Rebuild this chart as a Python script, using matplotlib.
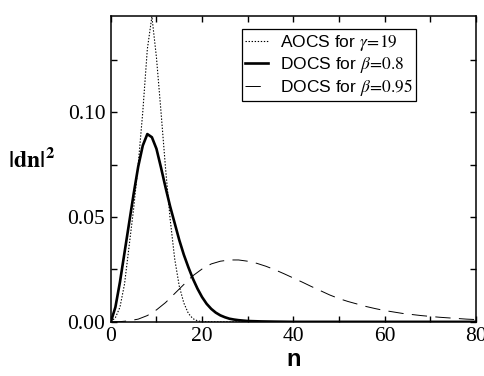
"""Photon-number distributions |d_n|^2 for AOCS and DOCS states."""
import matplotlib
matplotlib.use("Agg")
import matplotlib.pyplot as plt

plt.rcParams["mathtext.fontset"] = "stix"
plt.rcParams["lines.scale_dashes"] = False

# AOCS, gamma = 19 (dotted)
n_aocs = [0, 1, 2, 3, 4, 5, 6, 7, 8, 9, 10, 11, 12, 13, 14, 15, 16, 17, 18,
          19, 20, 22, 80]
p_aocs = [0.0, 0.002, 0.007, 0.018, 0.036, 0.054, 0.075, 0.100, 0.130,
          0.1455, 0.126, 0.100, 0.073, 0.049, 0.030, 0.017, 0.009, 0.004,
          0.0015, 0.0005, 0.0001, 0.0, 0.0]

# DOCS, beta = 0.8 (thick solid)
n_b08 = [0, 1, 2, 3, 4, 5, 6, 7, 8, 9, 10, 11, 12, 13, 14, 15, 16, 17, 18,
         19, 20, 21, 22, 23, 24, 25, 26, 27, 28, 30, 33, 36, 40, 80]
p_b08 = [0.0, 0.007, 0.019, 0.033, 0.047, 0.061, 0.074, 0.084, 0.0895,
         0.088, 0.0825, 0.0735, 0.064, 0.055, 0.047, 0.039, 0.032, 0.026,
         0.0205, 0.0158, 0.0118, 0.0086, 0.0062, 0.0044, 0.0031, 0.0022,
         0.0015, 0.0011, 0.0008, 0.0004, 0.0002, 0.0001, 0.0, 0.0]

# DOCS, beta = 0.95 (dashed)
n_b095 = [0, 2, 4, 6, 8, 10, 12, 14, 16, 18, 20, 22, 24, 26, 28, 30, 32, 34,
          36, 38, 40, 42, 44, 46, 48, 50, 52, 54, 56, 58, 60, 62, 64, 66,
          68, 70, 72, 74, 76, 78, 80]
p_b095 = [0.0, 0.0001, 0.0005, 0.0013, 0.0030, 0.0057, 0.0092, 0.0135,
          0.0178, 0.0220, 0.0252, 0.0276, 0.0289, 0.0295, 0.0295, 0.0289,
          0.0279, 0.0265, 0.0248, 0.0229, 0.0209, 0.0189, 0.0168, 0.0148,
          0.0128, 0.0111, 0.0097, 0.0085, 0.0073, 0.0063, 0.0054, 0.0047,
          0.0040, 0.0035, 0.0030, 0.0026, 0.0022, 0.0019, 0.0016, 0.0013,
          0.0011]

fig = plt.figure(figsize=(4.84, 3.76), dpi=100)
ax = fig.add_axes([0.229, 0.144, 0.754, 0.813])

ax.plot(n_aocs, p_aocs, color="black", lw=0.8, dashes=(1.0, 1.2),
        label=r"AOCS for $\gamma\!=\!\mathrm{19}$")
ax.plot(n_b08, p_b08, color="black", lw=1.9,
        label=r"DOCS for $\beta\!=\!\mathrm{0.8}$")
ax.plot(n_b095, p_b095, color="black", lw=0.7, dashes=(11, 6),
        label=r"DOCS for $\beta\!=\!\mathrm{0.95}$")

ax.set_xlim(0, 80)
ax.set_ylim(0, 0.1457)
ax.set_xticks([0, 20, 40, 60, 80])
ax.set_xticks([10, 30, 50, 70], minor=True)
ax.set_yticks([0.0, 0.05, 0.10])
ax.set_yticks([0.025, 0.075, 0.125], minor=True)
ax.set_yticklabels(["0.00", "0.05", "0.10"])

ax.tick_params(which="both", direction="in", top=True, right=True,
               width=1.0, labelsize=15.5, pad=4)
ax.tick_params(which="major", length=4.5)
ax.tick_params(which="minor", length=4)
for lab in ax.get_xticklabels() + ax.get_yticklabels():
    lab.set_family("Liberation Serif")
for sp in ax.spines.values():
    sp.set_linewidth(1.1)

ax.set_xlabel("n", family="Liberation Sans", fontweight="bold", fontsize=17,
              labelpad=1)
fig.text(0.066, 0.575, r"$\mathbf{|dn|}^{\mathbf{2}}$", fontsize=17,
         ha="center", va="center")

leg = ax.legend(loc="upper left", bbox_to_anchor=(0.359, 0.9575),
                borderaxespad=0, fancybox=False, edgecolor="black",
                framealpha=1, handlelength=1.3, handletextpad=0.7,
                labelspacing=0.12, borderpad=0.2,
                prop={"family": "Liberation Sans", "size": 12.5})
leg.get_frame().set_linewidth(0.9)

fig.savefig("out.png", dpi=100)
